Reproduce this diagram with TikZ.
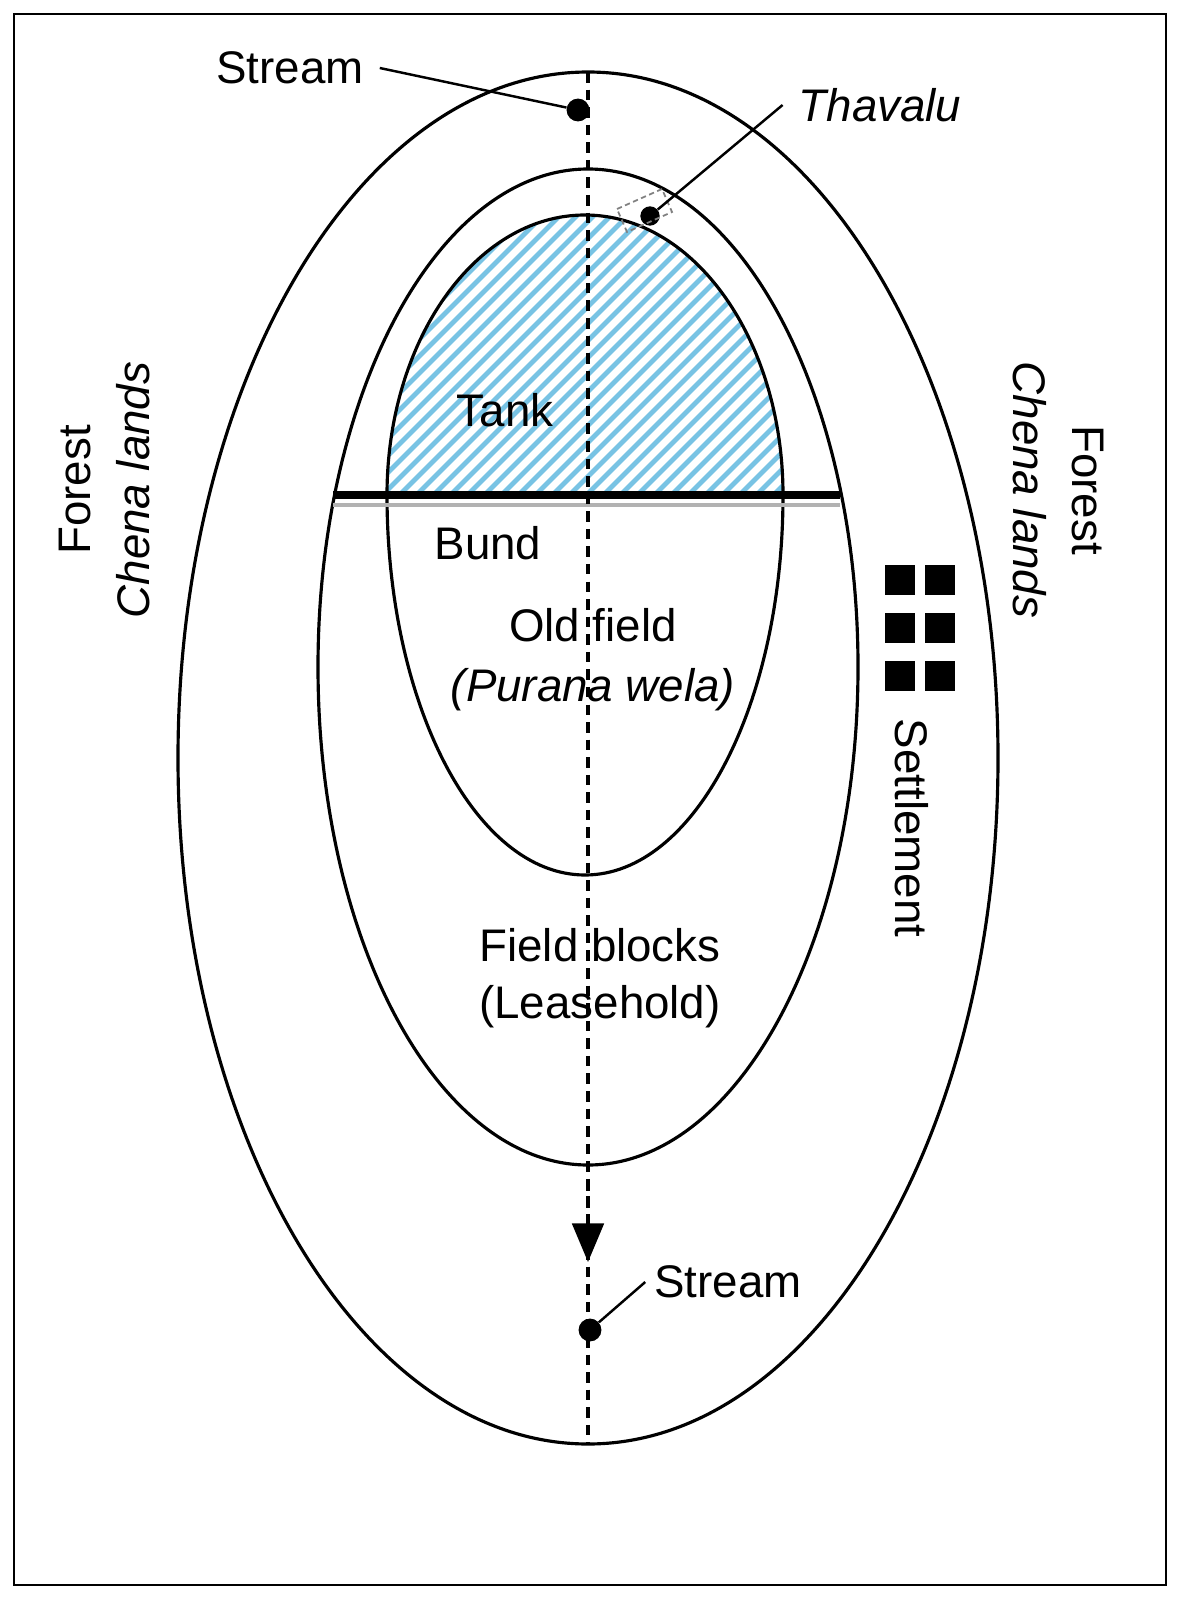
\documentclass[tikz,border=0pt]{standalone}
\usepackage{fontspec}
\setmainfont{Liberation Sans}
\usetikzlibrary{arrows.meta}
\definecolor{tankblue}{RGB}{120,195,228}
\tikzset{
  lbl/.style={font=\fontsize{26}{30}\selectfont, inner sep=1pt},
  dot/.style={circle, fill=black, inner sep=0pt, minimum size=13pt},
  house/.style={fill=black, minimum size=17pt, inner sep=0pt},
  ring/.style={line width=1.8pt}
}
\begin{document}
\begin{tikzpicture}[x=0.02cm, y=-0.02cm]
        \useasboundingbox (0,0) rectangle (1180,1598);
        \draw [line width=1.5pt] (14,14) rectangle (1166,1585);

        % tank with hatching
        \begin{scope}
        \clip (387,495) arc[start angle=180, end angle=360, x radius=198, y radius=280] -- cycle;
        \fill [tankblue] (380,200) rectangle (790,500);
        \foreach \i in {0,...,50}
            \draw [white, line width=4pt] (380+\i*17-300,500) -- ++(300,-300);
        \end{scope}

        % zones
        \draw [ring] (588,758) ellipse [x radius=410, y radius=686];
        \draw [ring] (588,667) ellipse [x radius=270, y radius=498];
        \draw [ring] (387,495) arc[start angle=180, end angle=360, x radius=198, y radius=280];
        \draw [ring] (387,495) arc[start angle=180, end angle=0, x radius=198, y radius=380];

        % bund
        \draw [gray!60, line width=2pt] (333,505) -- (840,505);
        \draw [line width=5pt] (333,495) -- (840,495);

        % stream axis
        \coordinate (sTop) at (588,72);
        \coordinate (sBot) at (588,1445);
        \coordinate (sArr) at (588,1262);
        \draw [line width=1.8pt, dash pattern=on 6pt off 4pt] (sTop) -- (sBot);
        \draw [-{Triangle[length=22pt, width=18pt]}, line width=1.8pt, dash pattern=on 6pt off 4pt] (588,1180) -- (sArr);

        \node [dot] (inflow) at (578,110) {};
        \node [dot] (outflow) at (590,1330) {};
        \node [dot, minimum size=11pt] (thav) at (650,216) {};
        \draw [densely dashed, gray, line width=1pt] (642,215) ++(-25,-6) -- ++(45,-20) -- ++(10,23) -- ++(-45,20) -- cycle;

        \node [lbl] (stream1) at (290,68) {Stream};
        \node [lbl] (thavalu) at (880,105) {\itshape Thavalu};
        \node [lbl] (stream2) at (728,1282) {Stream};
        \draw [line width=1.4pt] ([xshift=8pt]stream1.east) -- (inflow);
        \draw [line width=1.4pt] ([xshift=-8pt]thavalu.west) -- (thav);
        \draw [line width=1.4pt] ([xshift=-4pt]stream2.west) -- (outflow);

        \node [lbl] (tank) at (505,410) {Tank};
        \node [lbl] (bund) at (488,543) {Bund};
        \node [lbl] (old) at (593,625) {Old field};
        \node [lbl] (purana) at (593,690) {\itshape (Purana wela)};
        \node [lbl] (blocks) at (600,945) {Field blocks};
        \node [lbl] (lease) at (600,1007) {(Leasehold)};

        \node [lbl, rotate=90] (forestL) at (75,490) {Forest};
        \node [lbl, rotate=90] (chenaL) at (133,490) {\itshape Chena lands};
        \node [lbl, rotate=-90] (forestR) at (1088,490) {Forest};
        \node [lbl, rotate=-90] (chenaR) at (1030,490) {\itshape Chena lands};
        \node [lbl, rotate=-90] (settle) at (912,828) {Settlement};

        \foreach \r in {580,628,676}
            \foreach \c in {900,940}
                \node [house] at (\c,\r) {};

    \end{tikzpicture}
\end{document}
